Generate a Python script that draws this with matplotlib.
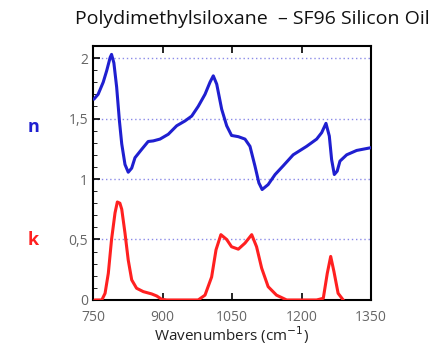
import matplotlib
matplotlib.use("Agg")
import matplotlib.pyplot as plt
from matplotlib.ticker import MultipleLocator, FuncFormatter

# refractive index n
n_x = [752, 761, 772, 779.5, 787, 790, 795, 801, 807, 812, 819, 826, 833.5,
       840.6, 855, 869, 880, 894.6, 912.5, 930.6, 948.5, 963, 977, 991.7,
       1002.5, 1009.6, 1017, 1027.7, 1038.5, 1049, 1063.6, 1078, 1088.8,
       1099.6, 1108, 1115, 1128, 1143, 1160.7, 1182, 1211, 1232.7, 1243.5,
       1252.8, 1260, 1265, 1270.8, 1277, 1283, 1297.5, 1319, 1350]
n_y = [1.66, 1.70, 1.80, 1.895, 2.005, 2.03, 1.96, 1.76, 1.48, 1.29, 1.12,
       1.056, 1.09, 1.176, 1.245, 1.31, 1.315, 1.33, 1.37, 1.44, 1.48, 1.52,
       1.60, 1.70, 1.80, 1.853, 1.784, 1.577, 1.44, 1.36, 1.35, 1.33, 1.27,
       1.106, 0.968, 0.913, 0.954, 1.037, 1.11, 1.20, 1.27, 1.33, 1.383,
       1.46, 1.355, 1.16, 1.037, 1.065, 1.148, 1.20, 1.236, 1.259]

# extinction coefficient k
k_x = [754, 769, 776, 783, 790, 797.5, 802.5, 808, 812, 819, 826, 833.5, 844,
       858.5, 876.6, 887.5, 898, 909, 977, 991.7, 1006, 1015.5, 1026, 1038.5,
       1049, 1063.6, 1078, 1092.5, 1103, 1114, 1128, 1146, 1168, 1232.7,
       1247, 1255.6, 1263, 1270, 1279, 1290]
k_y = [0.0, 0.0, 0.055, 0.22, 0.50, 0.72, 0.81, 0.80, 0.75, 0.553, 0.33,
       0.166, 0.097, 0.069, 0.05, 0.033, 0.006, 0.0, 0.0, 0.04, 0.19, 0.415,
       0.54, 0.50, 0.44, 0.42, 0.47, 0.54, 0.44, 0.263, 0.11, 0.04, 0.0, 0.0,
       0.014, 0.22, 0.36, 0.235, 0.055, 0.0]

plt.rcParams['font.family'] = ['Open Sans', 'DejaVu Sans']

fig = plt.figure(figsize=(4.44, 3.48), dpi=100)
ax = fig.add_axes([0.2095, 0.138, 0.6261, 0.730])

for yv in [0.5, 1, 1.5, 2]:
    ax.axhline(yv, color='#8a8ae8', lw=1.0, ls=(0, (1, 2)), zorder=1)

ax.plot(n_x, n_y, color='#1f1fd0', lw=2.2, zorder=3,
        solid_joinstyle='round', solid_capstyle='round')
ax.plot(k_x, k_y, color='#ff2020', lw=2.2, zorder=3,
        solid_joinstyle='round', solid_capstyle='round')

ax.set_xlim(750, 1350)
ax.set_ylim(0, 2.1)
ax.set_xticks([750, 900, 1050, 1200, 1350])
ax.yaxis.set_major_locator(MultipleLocator(0.5))
ax.yaxis.set_minor_locator(MultipleLocator(0.1))
ax.yaxis.set_major_formatter(FuncFormatter(lambda v, p: f"{v:g}".replace('.', ',')))
ax.tick_params(axis='both', direction='in', labelsize=10, labelcolor='#666666',
               width=1.2, length=5, top=True)
ax.tick_params(axis='x', pad=7)
ax.tick_params(axis='y', which='minor', direction='in', length=3)
for s in ax.spines.values():
    s.set_linewidth(1.5)

ax.set_xlabel("Wavenumbers (cm$^{-1}$)", fontsize=11, color='#222222', labelpad=0)

fig.text(0.568, 0.945, "Polydimethylsiloxane  \u2013 SF96 Silicon Oil", ha='center',
         va='center', fontsize=14, color='#111111')
fig.text(0.075, 0.635, "n", color='#1f1fd0', fontsize=13, fontweight='bold',
         ha='center', va='center')
fig.text(0.075, 0.31, "k", color='#ff2020', fontsize=13, fontweight='bold',
         ha='center', va='center')

fig.savefig("out.png", dpi=100)
